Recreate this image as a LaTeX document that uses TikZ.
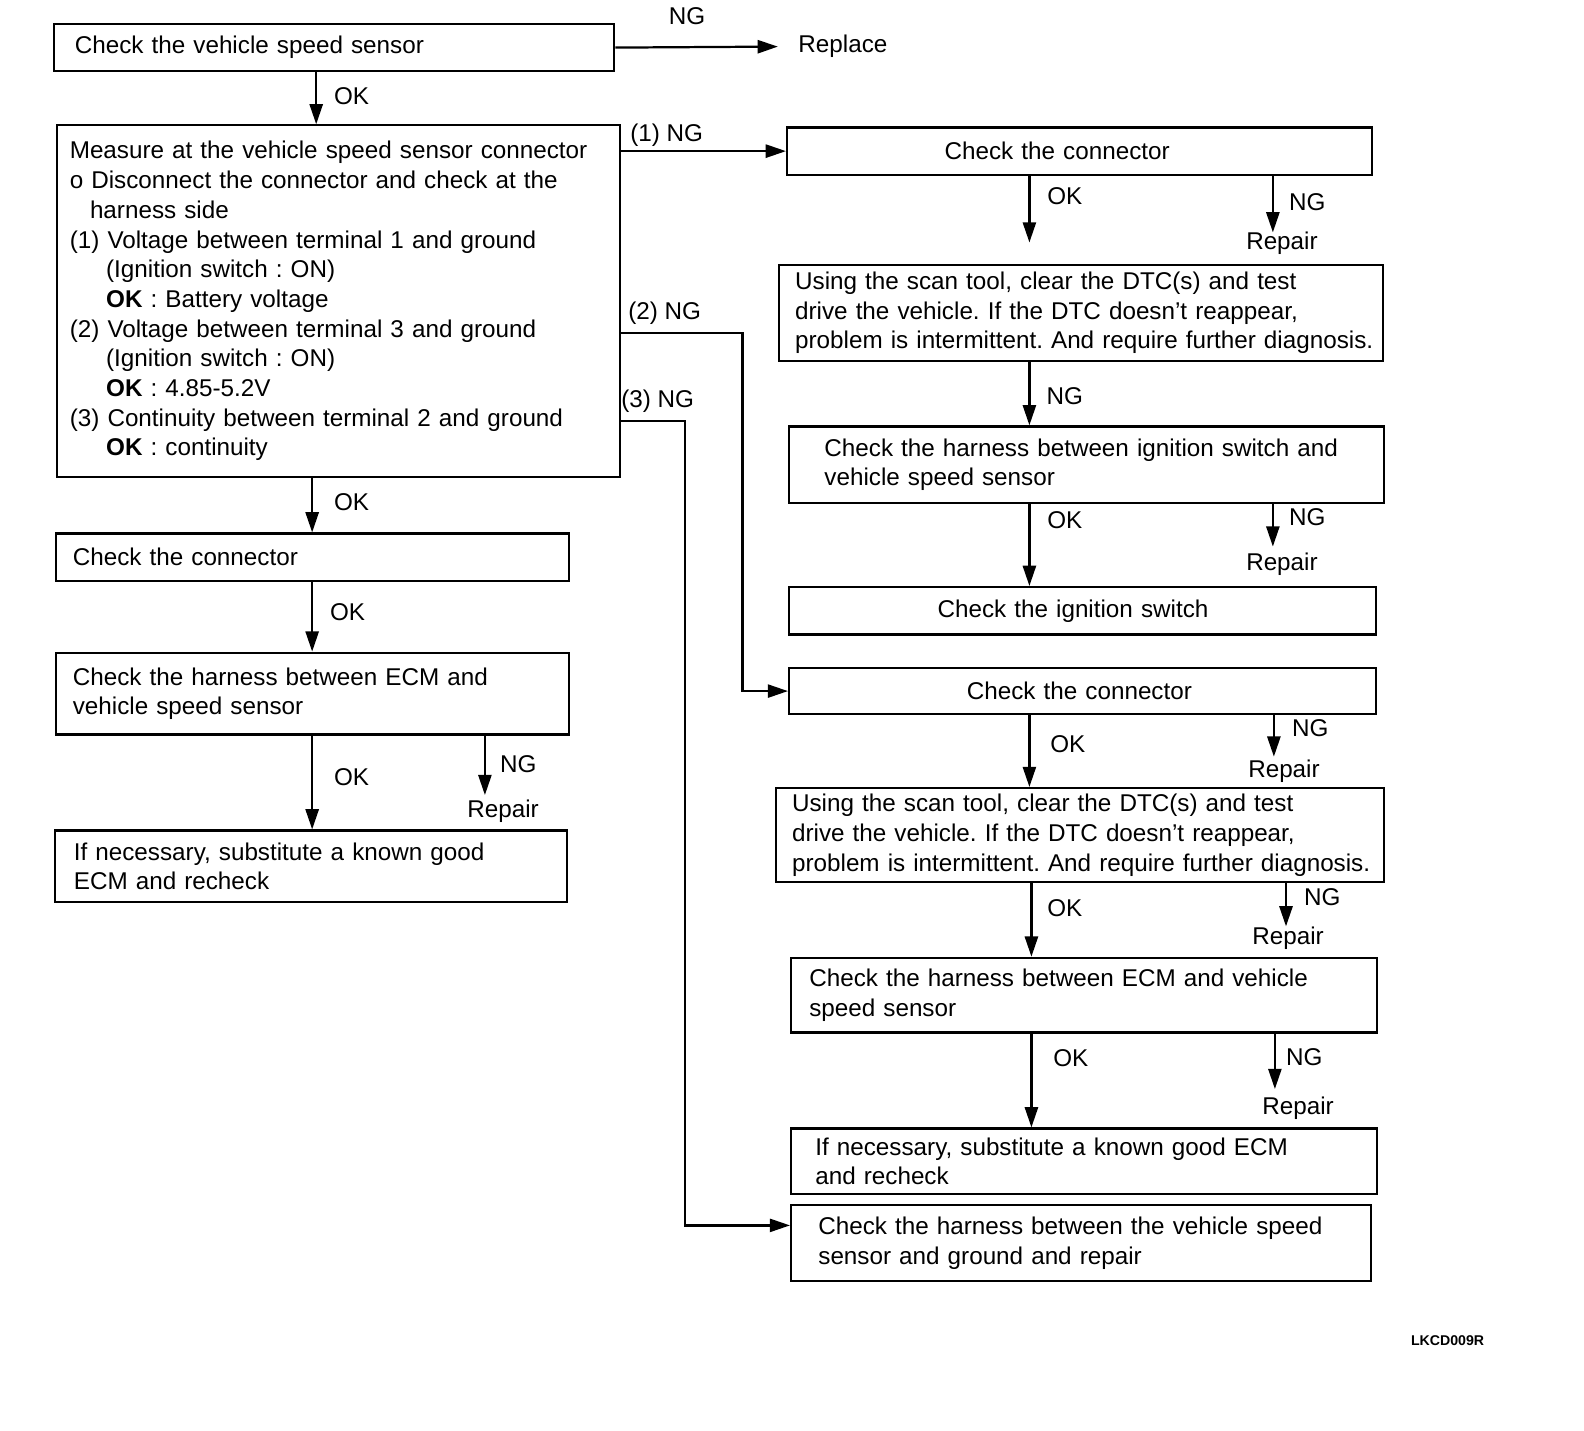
\documentclass[tikz,border=0pt]{standalone}
\usepackage{fontspec}
\setmainfont{Liberation Sans}
\usetikzlibrary{arrows.meta}
\frenchspacing
\begin{document}
\begin{tikzpicture}[x=0.5pt,y=-0.5pt,
  every node/.style={font=\fontsize{12}{14.7}\selectfont, text=black},
  box/.style={draw, line width=1.1pt, anchor=north west, inner ysep=0pt, align=left},
  lbl/.style={inner sep=0pt},
  arr/.style={line width=1.1pt, -{Triangle[length=10pt,width=6.5pt]}},
  ln/.style={line width=1.1pt}
]
\useasboundingbox (0,0) rectangle (1568,1415.6);

% left column
\node[box, minimum height=23pt, text width=256.5pt, inner xsep=10.5pt] (b1) at (52,23) {Check the vehicle speed sensor};
\node[lbl, anchor=west] (rep) at (790,46) {Replace};
\node[lbl] (ng0) at (680,16) {NG};
\draw[arr, shorten >=10pt] (b1.east) -- (rep.west);

\node[box, minimum height=174pt, text width=266pt, inner xsep=6.5pt] (b2) at (55,123) {\mbox{Measure at the vehicle speed sensor connector}\\
o Disconnect the connector and check at the\\
\hspace*{10pt}harness side\\
(1) Voltage between terminal 1 and ground\\
\hspace*{18pt}(Ignition switch : ON)\\
\hspace*{18pt}\textbf{OK} : Battery voltage\\
(2) Voltage between terminal 3 and ground\\
\hspace*{18pt}(Ignition switch : ON)\\
\hspace*{18pt}\textbf{OK} : 4.85-5.2V\\
\mbox{(3) Continuity between terminal 2 and ground}\\
\hspace*{18pt}\textbf{OK} : continuity};

\node[box, minimum height=23.5pt, text width=237pt, inner xsep=8.5pt] (b3) at (54,527) {Check the connector};
\node[box, minimum height=40.5pt, text width=237pt, inner xsep=8.5pt] (b4) at (54,645) {Check the harness between ECM and\\vehicle speed sensor};
\node[box, minimum height=35.5pt, text width=234.5pt, inner xsep=9.5pt] (b5) at (53,821) {If necessary, substitute a known good\\ECM and recheck};

\coordinate (cA) at (313,0);
\coordinate (cL) at (309,0);
\coordinate (nL) at (480,787);
\draw[arr] (b1.south -| cA) -- (b2.north -| cA);
\draw[arr] (b2.south -| cL) -- (b3.north -| cL);
\draw[arr] (b3.south -| cL) -- (b4.north -| cL);
\draw[arr] (b4.south -| cL) -- (b5.north -| cL);
\draw[arr] (b4.south -| nL) -- (nL);

\node[lbl] at (348,95) {OK};
\node[lbl] at (348,497) {OK};
\node[lbl] at (344,606) {OK};
\node[lbl] at (348,769) {OK};
\node[lbl] at (513,756) {NG};
\node[lbl] at (498,803) {Repair};

% right column
\node[box, minimum height=23.5pt, text width=133.5pt, inner xsep=78pt] (r1) at (778,125) {\mbox{Check the connector}};
\node[box, minimum height=47.5pt, text width=283pt, inner xsep=8pt] (r2) at (770,261) {\mbox{Using the scan tool, clear the DTC(s) and test}\\\mbox{drive the vehicle. If the DTC doesn't reappear,}\\\mbox{problem is intermittent. And require further diagnosis.}};
\node[box, minimum height=38pt, text width=259.5pt, inner xsep=17.5pt] (r3) at (780,421) {\mbox{Check the harness between ignition switch and}\\vehicle speed sensor};
\node[box, minimum height=23.5pt, text width=143.5pt, inner xsep=73.5pt] (r4) at (780,580) {\mbox{Check the ignition switch}};
\node[box, minimum height=23pt, text width=114.5pt, inner xsep=88pt] (r5) at (780,660) {\mbox{Check the connector}};
\node[box, minimum height=46.5pt, text width=285pt, inner xsep=8pt] (r6) at (767,779) {\mbox{Using the scan tool, clear the DTC(s) and test}\\\mbox{drive the vehicle. If the DTC doesn't reappear,}\\\mbox{problem is intermittent. And require further diagnosis.}};
\node[box, minimum height=37pt, text width=272pt, inner xsep=9pt] (r7) at (782,947) {\mbox{Check the harness between ECM and vehicle}\\speed sensor};
\node[box, minimum height=32.5pt, text width=266pt, inner xsep=12pt] (r8) at (782,1116) {\mbox{If necessary, substitute a known good ECM}\\and recheck};
\node[box, minimum height=37.5pt, text width=260pt, inner xsep=13.5pt] (r9) at (782,1192) {\mbox{Check the harness between the vehicle speed}\\sensor and ground and repair};

% NG branches from b2
\coordinate (t2) at (735,330);
\coordinate (t3) at (678,417);
\coordinate (e3) at (782,1213);
\draw[arr] (r1.west -| b2.east) -- (r1.west);
\draw[arr] (t2 -| b2.east) -- (t2) |- (r5.west);
\draw[arr] (t3 -| b2.east) -- (t3) |- (e3);
\node[lbl] at (660,134) {(1) NG};
\node[lbl] at (658,310) {(2) NG};
\node[lbl] at (651,397) {(3) NG};

% right vertical arrows
\coordinate (o1) at (1019,240);
\coordinate (n1) at (1260,230);
\coordinate (cR) at (1019,0);
\coordinate (n3) at (1260,541);
\coordinate (n5) at (1261,749);
\coordinate (cR2) at (1021,0);
\coordinate (n6) at (1273,917);
\coordinate (n7) at (1262,1078);
\draw[arr] (r1.south -| o1) -- (o1);
\draw[arr] (r1.south -| n1) -- (n1);
\draw[arr] (r2.south -| cR) -- (r3.north -| cR);
\draw[arr] (r3.south -| cR) -- (r4.north -| cR);
\draw[arr] (r3.south -| n3) -- (n3);
\draw[arr] (r5.south -| cR) -- (r6.north -| cR);
\draw[arr] (r5.south -| n5) -- (n5);
\draw[arr] (r6.south -| cR2) -- (r7.north -| cR2);
\draw[arr] (r6.south -| n6) -- (n6);
\draw[arr] (r7.south -| cR2) -- (r8.north -| cR2);
\draw[arr] (r7.south -| n7) -- (n7);

\node[lbl] at (1054,194) {OK};
\node[lbl] at (1294,200) {NG};
\node[lbl] at (1269,241) {Repair};
\node[lbl] at (1054,392) {NG};
\node[lbl] at (1054,515) {OK};
\node[lbl] at (1294,512) {NG};
\node[lbl] at (1269,559) {Repair};
\node[lbl] at (1057,737) {OK};
\node[lbl] at (1297,721) {NG};
\node[lbl] at (1271,763) {Repair};
\node[lbl] at (1054,899) {OK};
\node[lbl] at (1309,888) {NG};
\node[lbl] at (1275,929) {Repair};
\node[lbl] at (1060,1047) {OK};
\node[lbl] at (1291,1046) {NG};
\node[lbl] at (1285,1097) {Repair};

\node[lbl, font=\fontsize{7}{8}\selectfont\bfseries] at (1433,1327) {LKCD009R};
\end{tikzpicture}
\end{document}
